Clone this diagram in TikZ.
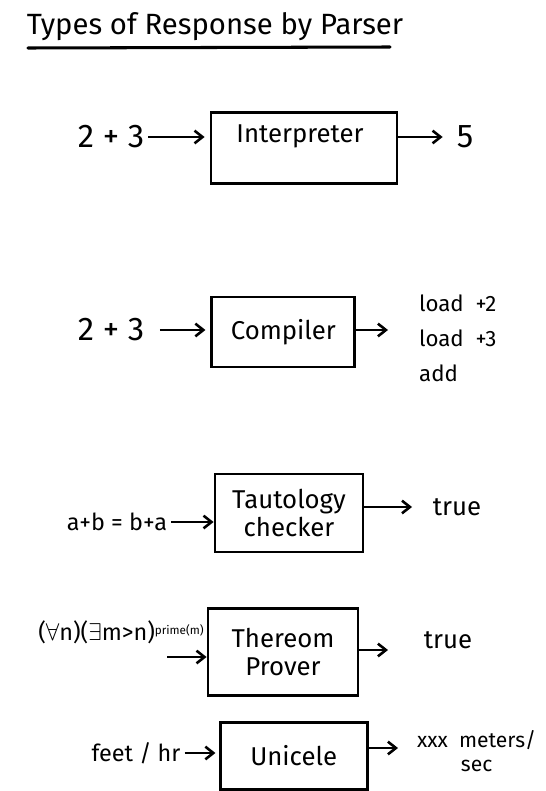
\documentclass[tikz,border=0pt]{standalone}
\usepackage{fontspec}
\setmainfont{Fira Sans}
\usetikzlibrary{arrows.meta,positioning}

\begin{document}
\begin{tikzpicture}[
  every node/.style={font=\fontsize{20}{23}\selectfont},
  procbox/.style={draw,line width=2.4pt,inner sep=0pt,align=center,
    font=\fontsize{22}{24}\selectfont},
  flow/.style={-{Straight Barb[length=2.4mm,width=3.8mm]},line width=2.2pt},
  bigtxt/.style={font=\fontsize{28}{30}\selectfont},
  listtxt/.style={font=\fontsize{19}{30}\selectfont}]
  \useasboundingbox (0,0) rectangle (16.38,-23.73);

  % Title
  \node[font=\fontsize{25}{27}\selectfont] (title) at (6.45,-0.80)
    {Types of Response by Parser};
  \draw[line width=2.6pt,line cap=round] (0.84,-1.44) -- (11.7,-1.41);

  % Interpreter
  \node[bigtxt] (in1) at (3.33,-4.11) {2 + 3};
  \node[procbox,minimum width=5.58cm,minimum height=2.13cm] (interp)
    at (9.12,-4.43) {};
  \node[font=\fontsize{22}{24}\selectfont] (interptxt) at (9.0,-4.08)
    {Interpreter};
  \node[bigtxt] (out1) at (13.95,-4.11) {5};
  \draw[flow,shorten >=0.15cm] (in1) -- (in1 -| interp.west);
  \draw[flow,shorten >=0.3cm] (interp.east |- out1) -- (out1);

  % Compiler
  \node[bigtxt] (in2) at (3.33,-9.9) {2 + 3};
  \node[procbox,minimum width=4.29cm,minimum height=2.1cm] (comp)
    at (8.5,-9.96) {Compiler};
  \node[listtxt,align=left,anchor=west] (out2) at (12.45,-10.14)
    {load\ \ +2\\load\ \ +3\\add};
  \coordinate (c2) at (11.64,-9.9);
  \draw[flow,shorten <=0.35cm,shorten >=0.15cm] (in2) -- (in2 -| comp.west);
  \draw[flow] (comp.east |- in2) -- (c2);

  % Tautology checker
  \node (in3) at (3.51,-15.66) {a+b = b+a};
  \node[procbox,minimum width=4.44cm,minimum height=2.34cm] (taut)
    at (8.67,-15.39) {Tautology\\checker};
  \node[font=\fontsize{22}{24}\selectfont] (out3) at (13.71,-15.21) {true};
  \draw[flow] (in3) -- (in3 -| taut.west);
  \draw[flow,shorten >=0.5cm] (taut.east |- out3) -- (out3);

  % Theorem prover
  \node (in4) at (3.63,-18.96)
    {(\ensuremath{\forall}n)(\ensuremath{\exists}m>n)%
     \raisebox{0.5ex}{\fontsize{10}{12}\selectfont prime(m)}};
  \coordinate (c4) at (5.01,-19.71);
  \node[procbox,minimum width=4.5cm,minimum height=2.61cm] (prov)
    at (8.49,-19.55) {Thereom\\Prover};
  \coordinate (c4o) at (11.64,-19.5);
  \node[font=\fontsize{22}{24}\selectfont] (out4) at (13.44,-19.2) {true};
  \draw[flow] (c4) -- (c4 -| prov.west);
  \draw[flow] (prov.east |- c4o) -- (c4o);

  % Unit converter
  \node (in5) at (4.08,-22.59) {feet / hr};
  \node[procbox,minimum width=4.41cm,minimum height=2.01cm] (uni)
    at (8.81,-22.67) {Unicele};
  \node[align=center,font=\fontsize{18}{20}\selectfont] (out5)
    at (14.3,-22.53) {xxx\ \ meters/\\sec};
  \coordinate (c5) at (11.94,-22.44);
  \draw[flow,shorten >=0.1cm] (in5) -- (in5 -| uni.west);
  \draw[flow] (uni.east |- c5) -- (c5);
\end{tikzpicture}
\end{document}
